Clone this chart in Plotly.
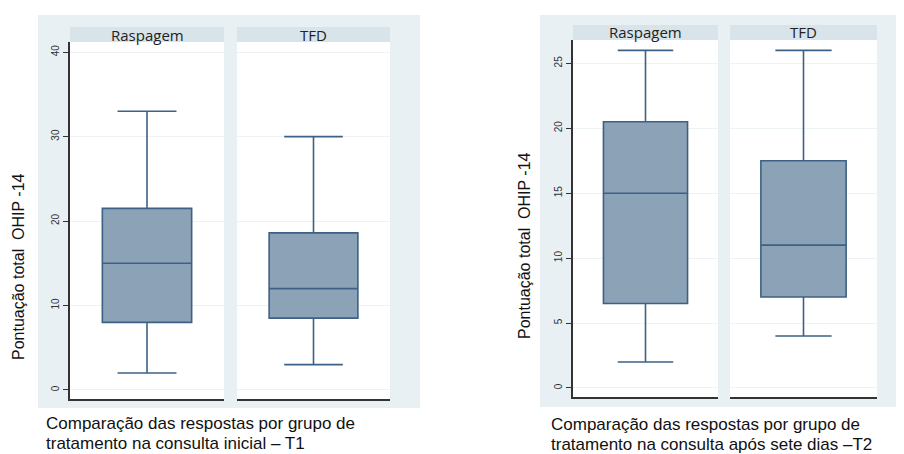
import plotly.graph_objects as go

groups = ["Raspagem", "TFD"]

# T1 (consulta inicial)
t1_lower = [2, 3]
t1_q1 = [8, 8.5]
t1_median = [15, 12]
t1_q3 = [21.5, 18.6]
t1_upper = [33, 30]
t1_ticks = [0, 10, 20, 30, 40]

# T2 (após sete dias)
t2_lower = [2, 4]
t2_q1 = [6.5, 7]
t2_median = [15, 11]
t2_q3 = [20.5, 17.5]
t2_upper = [26, 26]
t2_ticks = [0, 5, 10, 15, 20, 25]

ylabel = "Pontuação total\u00a0\u00a0OHIP -14"
caption_t1 = ["Comparação das respostas por grupo de", "tratamento na consulta inicial – T1"]
caption_t2 = ["Comparação das respostas por grupo de", "tratamento na consulta após sete dias –T2"]

OFF = 8  # default page body margin
W, H = 904 - OFF, 454 - OFF
BG = "#E9F0F3"
STRIP = "#D8E3EA"
FILL = "#8CA2B7"
LINE = "#3D6184"
GRID = "#EDF2F5"
AX = "#333333"

def px(x):
    return (x - OFF) / W

def py(y):
    return 1 - (y - OFF) / H

fig = go.Figure()

panels = [
    dict(lower=t1_lower, q1=t1_q1, med=t1_median, q3=t1_q3, up=t1_upper,
         ticks=t1_ticks, yr=[-1.07, 41.2], xs=[(70, 224), (237, 390)],
         ytop=42, ybot=399, strip=(27, 42), bg=(38, 15, 420, 408),
         ylab=(18, 267), cap=(44, 423, 443), caption=caption_t1),
    dict(lower=t2_lower, q1=t2_q1, med=t2_median, q3=t2_q3, up=t2_upper,
         ticks=t2_ticks, yr=[-0.7, 26.8], xs=[(573, 718), (730, 877)],
         ytop=40, ybot=397, strip=(25, 40), bg=(540, 15, 904, 407),
         ylab=(524, 246), cap=(549, 424, 444), caption=caption_t2),
]

shapes = []
annotations = []
idx = 0
for p in panels:
    x0, y0, x1, y1 = p["bg"]
    shapes.append(dict(type="rect", xref="paper", yref="paper",
                       x0=px(x0), x1=px(x1), y0=py(y1), y1=py(y0),
                       fillcolor=BG, line=dict(width=0), layer="below"))
    for g, (fx0, fx1) in enumerate(p["xs"]):
        idx += 1
        xa = "xaxis" if idx == 1 else f"xaxis{idx}"
        ya = "yaxis" if idx == 1 else f"yaxis{idx}"
        xr = "x" if idx == 1 else f"x{idx}"
        yr = "y" if idx == 1 else f"y{idx}"
        fig.add_trace(go.Box(
            x=[groups[g]], q1=[p["q1"][g]], median=[p["med"][g]], q3=[p["q3"][g]],
            lowerfence=[p["lower"][g]], upperfence=[p["up"][g]],
            fillcolor=FILL, line=dict(color=LINE, width=1.6),
            width=0.58, whiskerwidth=0.66, boxpoints=False,
            showlegend=False, hoverinfo="skip", xaxis=xr, yaxis=yr))
        shapes.append(dict(type="rect", xref="paper", yref="paper",
                           x0=px(fx0), x1=px(fx1), y0=py(p["ybot"]), y1=py(p["ytop"]),
                           fillcolor="white", line=dict(width=0), layer="below"))
        s0, s1 = p["strip"]
        shapes.append(dict(type="rect", xref="paper", yref="paper",
                           x0=px(fx0), x1=px(fx1), y0=py(s1), y1=py(s0),
                           fillcolor=STRIP, line=dict(width=0), layer="below"))
        annotations.append(dict(text=groups[g], xref="paper", yref="paper",
                                x=px((fx0 + fx1) / 2), y=py((s0 + s1) / 2),
                                showarrow=False, xanchor="center", yanchor="middle",
                                font=dict(family="Open Sans", size=15, color="#222")))
        fig.layout[xa] = dict(domain=[px(fx0), px(fx1)], type="category",
                              range=[-0.5, 0.5], showticklabels=False, ticks="",
                              showgrid=False, zeroline=False, showline=True,
                              linecolor=AX, linewidth=2, mirror=False,
                              anchor=yr, fixedrange=True)
        first = g == 0
        fig.layout[ya] = dict(domain=[py(p["ybot"]), py(p["ytop"])], range=p["yr"],
                              tickvals=p["ticks"], ticktext=[str(t) for t in p["ticks"]],
                              showticklabels=first, ticks="outside" if first else "",
                              ticklen=5, tickwidth=1.2, tickcolor=AX,
                              tickangle=-90, tickfont=dict(family="Liberation Sans", size=10, color="#333"),
                              showgrid=True, gridcolor=GRID, gridwidth=1.2,
                              zeroline=False, showline=first, linecolor=AX, linewidth=2,
                              anchor=xr, fixedrange=True)
    lx, ly = p["ylab"]
    annotations.append(dict(text=ylabel, xref="paper", yref="paper", x=px(lx), y=py(ly),
                            textangle=-90, showarrow=False, xanchor="center", yanchor="middle",
                            font=dict(family="Liberation Sans", size=16, color="#111")))
    cx, cy1, cy2 = p["cap"]
    for line_text, cy in zip(p["caption"], (cy1, cy2)):
        annotations.append(dict(text=line_text, xref="paper", yref="paper", x=px(cx), y=py(cy),
                                showarrow=False, xanchor="left", yanchor="middle", align="left",
                                font=dict(family="Liberation Sans", size=17, color="#111")))

fig.update_layout(width=W, height=H, margin=dict(l=0, r=0, t=0, b=0),
                  paper_bgcolor="white", plot_bgcolor="rgba(0,0,0,0)",
                  shapes=shapes, annotations=annotations)

fig.write_html("out.html")
